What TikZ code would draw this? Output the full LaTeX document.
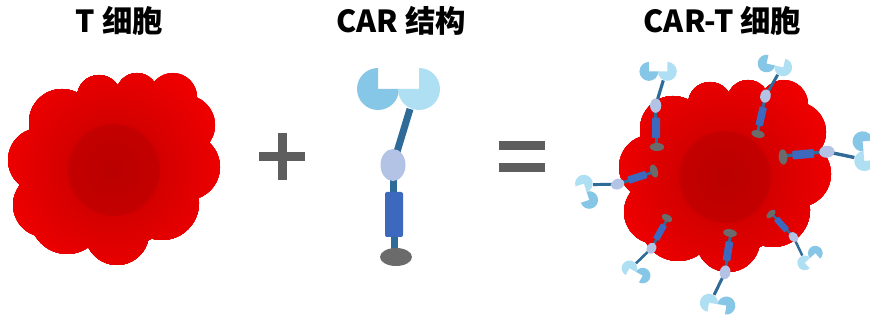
\documentclass[tikz,border=0pt]{standalone}
\usepackage{fontspec}
\newfontfamily\cjk{Noto Sans CJK SC}
\definecolor{cellred}{HTML}{EE0000}
\definecolor{cellmid}{HTML}{D40000}
\definecolor{cellcore}{HTML}{BA0000}
\definecolor{cellcoreb}{HTML}{C40000}
\definecolor{carheadA}{HTML}{86C6E6}
\definecolor{carheadB}{HTML}{AEDFF2}
\definecolor{carstalk}{HTML}{2F6B98}
\definecolor{carhinge}{HTML}{B3C3E6}
\definecolor{carbody}{HTML}{3C69BE}
\definecolor{carfoot}{HTML}{6B6B6B}
\definecolor{signgray}{HTML}{5E5E5E}
% lobed outline of a cell, as a union of circles
\newcommand\cellclip{%
  \clip (114,168) circle (80)
        (62,122) circle (33) (99,97) circle (22) (137,94) circle (21)
        (173,97) circle (24) (185,125) circle (30) (187,167) circle (33)
        (162,203) circle (37) (117,233) circle (32) (67,217) circle (37)
        (45,205) circle (32) (40,160) circle (32);}
% cell body: radial colour ramp built from concentric discs
\newcommand\cellbody{%
  \begin{scope}
    \cellclip
    \foreach \r in {124,121,...,49} {
      \pgfmathtruncatemacro\t{min(100,max(0,(\r-49)/61*100))}
      \fill[cellred!\t!cellmid] (114,170) circle (\r);
    }
    \foreach \r in {46,44,...,2} {
      \pgfmathtruncatemacro\t{\r/46*100}
      \fill[cellcoreb!\t!cellcore] (114,170) circle (\r);
    }
  \end{scope}}
\tikzset{
  titletext/.style={font=\cjk\bfseries\fontsize{22.8}{26}\selectfont, anchor=base,
    inner sep=0pt},
  pics/car/.style={code={
    \begin{scope}[line cap=butt]
      \draw[carstalk, line width=#1*5.25pt] (-2,-2) -- (-2,-24);
      \draw[carstalk, line width=#1*5.25pt] (-3,-60) -- (-3,-90);
      \draw[carstalk, line width=#1*5.25pt] (-3,-92) -- (14,-148);
    \end{scope}
    \fill[carbody, rounded corners=#1*1.5pt] (-11,-65) rectangle (7,-20);
    \fill[carhinge] (-3,-92) ellipse [x radius=12.5, y radius=16];
    \fill[carheadA] (-18,-168) -- ++(21,0)
      arc[start angle=0, end angle=270, radius=21] -- cycle;
    \fill[carheadB] (23,-168) -- ++(0,-21)
      arc[start angle=270, end angle=540, radius=21] -- cycle;
    \fill[carfoot] (0,0) ellipse [x radius=16, y radius=9];
  }}
}
\begin{document}
\begin{tikzpicture}[x=0.75pt,y=-0.75pt]
  \fill[white] (0,0) rectangle (870,323);
  \useasboundingbox (0,0) rectangle (870,323);

  % titles
  \node[titletext] (ttitle) at (119.5,33) {T 细胞};
  \node[titletext] (cartitle) at (401,33) {CAR 结构};
  \node[titletext] (cartcelltitle) at (722.5,33) {CAR-T 细胞};

  % T cell
  \cellbody

  % plus sign
  \fill[signgray] (278,133) rectangle (287,180);
  \fill[signgray] (259,152) rectangle (305,161);

  % CAR construct
  \pic (car) at (396,257) {car=1};

  % equals sign
  \fill[signgray] (499,141) rectangle (545,150.5);
  \fill[signgray] (499,163) rectangle (545,172.5);

  % CAR-T cell with receptors on its surface
  \begin{scope}[shift={(611,7)}]
    \cellbody
  \end{scope}
  \pic[rotate=0, scale=0.45] (r1) at (657,147) {car=0.45};
  \pic[rotate=-13, scale=0.42] (r2) at (758,134) {car=0.42};
  \pic[rotate=-85, scale=0.48] (r3) at (783,157) {car=0.48};
  \pic[rotate=108, scale=0.42] (r4) at (654,171) {car=0.42};
  \pic[rotate=151, scale=0.37] (r5) at (667,218) {car=0.37};
  \pic[rotate=171, scale=0.43] (r6) at (730,233) {car=0.43};
  \pic[rotate=-137.6, scale=0.35] (r7) at (771,214) {car=0.35};
\end{tikzpicture}
\end{document}
